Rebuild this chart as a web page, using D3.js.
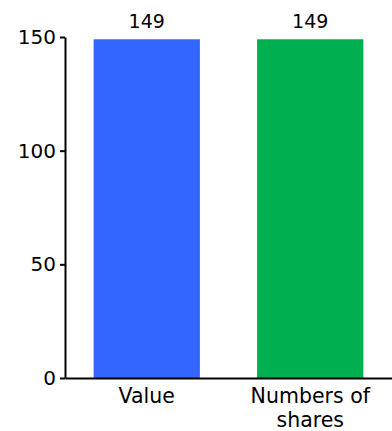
<!DOCTYPE html>
<html><head><meta charset="utf-8">
<script src="https://cdn.jsdelivr.net/npm/d3@7"></script>
<style>body{margin:0;background:#fff;} svg{display:block;font-family:"DejaVu Sans",Verdana,sans-serif;}</style>
</head><body>
<script>
const categories = ["Value", "Numbers of shares"];
const values = [149, 149];
const colors = ["#3366ff", "#00b050"];
const yTicks = [0, 50, 100, 150];

const W = 392, H = 431;
const margin = {top: 37, right: 0, bottom: 53, left: 65};
const svg = d3.select("body").append("svg").attr("width", W).attr("height", H);

const x = d3.scaleBand().domain(categories).range([margin.left, W - margin.right]).paddingInner(0.35).paddingOuter(0.175);
const y = d3.scaleLinear().domain([0, 150]).range([H - margin.bottom, margin.top]);

svg.selectAll("rect.bar").data(categories).join("rect")
  .attr("class", "bar")
  .attr("x", d => x(d))
  .attr("width", x.bandwidth())
  .attr("y", (d, i) => y(values[i]))
  .attr("height", (d, i) => y(0) - y(values[i]))
  .attr("fill", (d, i) => colors[i]);

svg.selectAll("text.val").data(categories).join("text")
  .attr("class", "val")
  .attr("x", d => x(d) + x.bandwidth() / 2)
  .attr("y", (d, i) => y(values[i]) - 11)
  .attr("text-anchor", "middle")
  .attr("font-size", 19)
  .attr("fill", "#000")
  .text((d, i) => values[i]);

const yAxis = svg.append("g").attr("transform", `translate(${margin.left},0)`)
  .call(d3.axisLeft(y).tickValues(yTicks).tickSize(5).tickPadding(4).tickSizeOuter(0));
yAxis.select(".domain").attr("stroke", "#000").attr("stroke-width", 2);
yAxis.selectAll(".tick line").attr("stroke", "#000").attr("stroke-width", 2);
yAxis.selectAll(".tick text").attr("font-size", 20).attr("fill", "#000").attr("font-family", '"DejaVu Sans",Verdana,sans-serif');

const xAxis = svg.append("g").attr("transform", `translate(0,${y(0)})`)
  .call(d3.axisBottom(x).tickSize(0).tickSizeOuter(0).tickPadding(0));
xAxis.select(".domain").attr("stroke", "#000").attr("stroke-width", 2);
xAxis.selectAll(".tick text").remove();
xAxis.selectAll(".tick").each(function(d) {
  const g = d3.select(this);
  const words = d.split(" ");
  let lines = [];
  if (words.length > 2) { lines = [words.slice(0, 2).join(" "), words.slice(2).join(" ")]; }
  else lines = [d];
  const t = g.append("text").attr("text-anchor", "middle").attr("font-size", 20.5)
    .attr("fill", "#000").attr("font-family", '"DejaVu Sans",Verdana,sans-serif');
  lines.forEach((ln, i) => t.append("tspan").attr("x", 0).attr("y", 25 + i * 24).text(ln));
});
</script>
</body></html>
